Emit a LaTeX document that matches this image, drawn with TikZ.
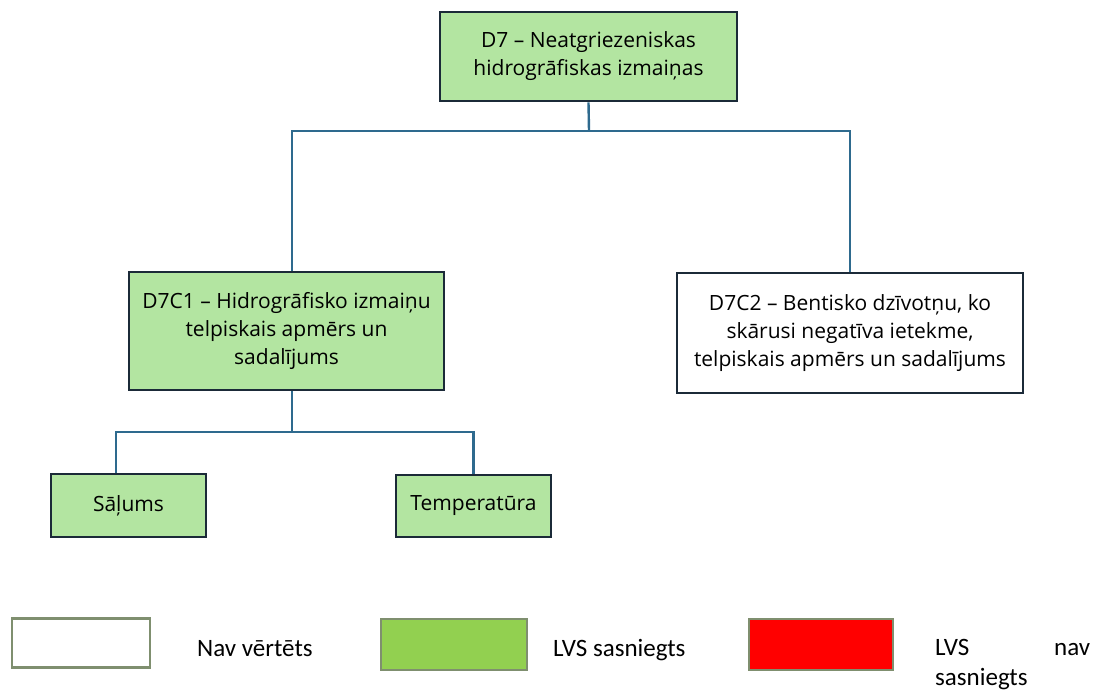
\documentclass[tikz,border=0pt]{standalone}
\usepackage{fontspec}
\setmainfont{Open Sans}
\newfontfamily\legfont{Carlito}
\definecolor{boxgreen}{HTML}{B3E5A1}
\definecolor{boxedge}{HTML}{1B2A38}
\definecolor{linkblue}{HTML}{2E6A8E}
\definecolor{leggreen}{HTML}{92D050}
\definecolor{legedge}{HTML}{7F8F6F}
\tikzset{
  box/.style={draw=boxedge, line width=2.6pt, align=center, inner sep=4pt, font=\fontsize{21}{28}\selectfont},
  gbox/.style={box, fill=boxgreen},
  wbox/.style={box, fill=white},
  link/.style={draw=linkblue, line width=2.4pt},
  legbox/.style={draw=legedge, line width=2.6pt, minimum width=138pt, minimum height=49pt},
  legtext/.style={font=\legfont\fontsize{25}{30}\selectfont, anchor=base west, inner sep=0pt}
}
\begin{document}
\begin{tikzpicture}[x=1pt,y=-1pt]
\useasboundingbox (0,0) rectangle (1095,693);
\node[gbox, minimum width=297pt, minimum height=89pt] (d7) at (588.5,56.5)
  {D7 -- Neatgriezeniskas\\hidrogrāfiskas izmaiņas};
\node[gbox, minimum width=315pt, minimum height=118pt] (d7c1) at (286.5,331)
  {D7C1 -- Hidrogrāfisko izmaiņu\\telpiskais apmērs un\\sadalījums};
\node[wbox, minimum width=346pt, minimum height=120pt] (d7c2) at (850,333)
  {D7C2 -- Bentisko dzīvotņu, ko\\skārusi negatīva ietekme,\\telpiskais apmērs un sadalījums};
\node[gbox, minimum width=155pt, minimum height=63pt] (sal) at (128.5,505.5) {Sāļums};
\node[gbox, minimum width=155pt, minimum height=62pt] (temp) at (473.5,506) {Temperatūra};
\coordinate (j1) at (589,131);
\coordinate (j2) at (292,432);
\draw[link] (d7.south) -- (j1);
\draw[link] (d7c1.north -| 292,0) |- (j1);
\draw[link] (j1) -| (d7c2.north);
\draw[link] (d7c1.south -| j2) -- (j2);
\draw[link] (sal.north -| 116,0) |- (j2);
\draw[link] (j2) -| (temp.north);
% legend
\node[legbox, fill=white] (l1) at (81,643) {};
\node[legbox, fill=leggreen, minimum width=146pt, minimum height=51pt] (l2) at (454,644.5) {};
\node[legbox, fill=red, minimum width=144pt, minimum height=51pt] (l3) at (821,644.5) {};
\node[legtext] (t1) at (197,656) {Nav vērtēts};
\node[legtext] (t2) at (553,656) {LVS sasniegts};
\node[legtext, text width=155pt, align=left] (t3) at (935,655)
  {LVS\hfill nav\\sasniegts};
\end{tikzpicture}
\end{document}
